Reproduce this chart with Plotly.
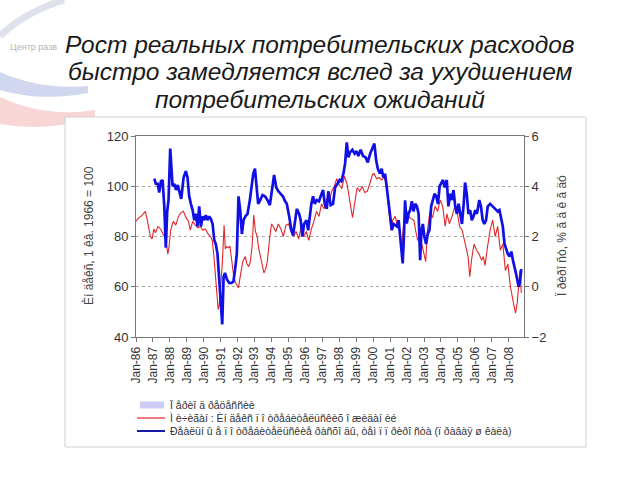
import plotly.graph_objects as go

# ---------------- data ----------------
title_lines = ["Рост реальных потребительских расходов",
               "быстро замедляется вслед за ухудшением",
               "потребительских ожиданий"]

tick_years = list(range(1986, 2009))
tick_labels = ["Jan-%02d" % (y % 100) for y in tick_years]

recession_start = [1990.50, 2001.17]
recession_end = [1991.25, 2001.87]

# Michigan: consumer expectations index (left axis)
red_x = [1986.00, 1986.15, 1986.30, 1986.45, 1986.55, 1986.65, 1986.75, 1986.85, 1986.95,
         1987.05, 1987.15, 1987.30, 1987.45, 1987.60, 1987.75, 1987.88, 1987.95, 1988.05,
         1988.20, 1988.35, 1988.50, 1988.65, 1988.80, 1988.95, 1989.10, 1989.20, 1989.35,
         1989.50, 1989.65, 1989.80, 1989.95, 1990.10, 1990.25, 1990.40, 1990.50, 1990.60,
         1990.70, 1990.78, 1990.85, 1990.92, 1991.00, 1991.10, 1991.20, 1991.27, 1991.35,
         1991.45, 1991.55, 1991.65, 1991.75, 1991.85, 1991.95, 1992.05, 1992.15, 1992.30,
         1992.45, 1992.55, 1992.65, 1992.75, 1992.85, 1992.95, 1993.05, 1993.15, 1993.25,
         1993.40, 1993.55, 1993.65, 1993.75, 1993.90, 1994.00, 1994.10, 1994.25, 1994.40,
         1994.55, 1994.70, 1994.85, 1995.00, 1995.15, 1995.30, 1995.45, 1995.60, 1995.75,
         1995.90, 1996.05, 1996.20, 1996.35, 1996.50, 1996.65, 1996.80, 1996.95, 1997.10,
         1997.25, 1997.40, 1997.55, 1997.70, 1997.85, 1998.00, 1998.15, 1998.30, 1998.45,
         1998.55, 1998.65, 1998.78, 1998.90, 1999.05, 1999.20, 1999.35, 1999.50, 1999.65,
         1999.80, 1999.95, 2000.05, 2000.20, 2000.35, 2000.50, 2000.65, 2000.80, 2000.90,
         2001.05, 2001.15, 2001.30, 2001.45, 2001.55, 2001.68, 2001.80, 2001.95, 2002.10,
         2002.25, 2002.40, 2002.50, 2002.62, 2002.75, 2002.90, 2003.00, 2003.10, 2003.20,
         2003.35, 2003.50, 2003.65, 2003.80, 2003.95, 2004.10, 2004.25, 2004.35, 2004.50,
         2004.65, 2004.80, 2004.95, 2005.10, 2005.25, 2005.45, 2005.60, 2005.70, 2005.80,
         2005.95, 2006.10, 2006.25, 2006.40, 2006.50, 2006.60, 2006.75, 2006.90, 2007.05,
         2007.20, 2007.35, 2007.50, 2007.65, 2007.80, 2007.95, 2008.10, 2008.25, 2008.40,
         2008.50, 2008.60, 2008.66, 2008.74]
red_y = [86, 87.5, 88, 89.5, 90, 87, 84, 80, 79,
         83, 81.5, 84, 83, 81, 79, 73, 76, 82.5,
         86, 84.5, 88, 89.5, 90, 87.5, 86, 82.5, 86,
         84.5, 83.5, 84, 82.5, 83, 81, 80, 78.5, 72,
         64, 56, 51, 53, 60, 70, 84.5, 75, 76,
         75.5, 76, 70, 65, 62, 61, 59.5, 64, 70,
         72, 69, 68, 70, 76, 88.5, 82, 80, 75,
         70, 65.5, 67, 70, 80, 85, 84, 82, 85,
         83, 80, 84.5, 85, 82, 80, 82, 79, 84,
         80, 82, 78.5, 83, 86, 90, 88, 93, 91,
         95, 94, 98, 100, 103, 100.5, 99, 104, 101,
         97, 93, 87.5, 93, 99.5, 98, 100, 97.5, 98,
         101, 104.5, 105, 103, 103.5, 102.5, 103.5, 100.5, 92,
         82.5, 86.5, 88, 84, 83, 76, 85, 90.5, 88,
         87, 86.5, 82.5, 78.5, 80.5, 76, 73, 70, 82.5,
         90, 87.5, 92, 90, 94.5, 92, 84, 89, 85,
         88, 91.5, 90, 84, 82.5, 76, 72, 64, 70.5,
         77, 74.5, 73, 70.5, 72, 68.5, 76, 82.5, 86.5,
         80, 84, 74.5, 77, 66.5, 69, 60, 54.5, 49.5,
         53.5, 60, 66.5, 57.5]

# Real consumer spending, growth rate (right axis)
blue_x = [1987.08, 1987.17, 1987.28, 1987.37, 1987.47, 1987.57, 1987.67, 1987.76, 1987.84,
          1987.92, 1988.02, 1988.08, 1988.16, 1988.26, 1988.36, 1988.46, 1988.57, 1988.67,
          1988.81, 1988.94, 1989.04, 1989.14, 1989.24, 1989.34, 1989.44, 1989.54, 1989.63,
          1989.73, 1989.83, 1989.93, 1990.03, 1990.12, 1990.22, 1990.32, 1990.42, 1990.52,
          1990.62, 1990.71, 1990.81, 1990.91, 1991.01, 1991.09, 1991.17, 1991.25, 1991.36,
          1991.50, 1991.63, 1991.75, 1991.85, 1991.95, 1992.05, 1992.15, 1992.25, 1992.35,
          1992.45, 1992.58, 1992.72, 1992.82, 1992.92, 1993.02, 1993.12, 1993.21, 1993.33,
          1993.47, 1993.61, 1993.76, 1993.90, 1994.03, 1994.15, 1994.28, 1994.40, 1994.54,
          1994.67, 1994.80, 1994.90, 1995.04, 1995.17, 1995.27, 1995.37, 1995.49, 1995.63,
          1995.72, 1995.82, 1995.92, 1996.06, 1996.16, 1996.26, 1996.35, 1996.45, 1996.55,
          1996.67, 1996.80, 1996.90, 1997.04, 1997.14, 1997.26, 1997.35, 1997.49, 1997.63,
          1997.75, 1997.89, 1998.02, 1998.12, 1998.24, 1998.34, 1998.44, 1998.54, 1998.63,
          1998.77, 1998.90, 1999.02, 1999.12, 1999.26, 1999.40, 1999.55, 1999.68, 1999.82,
          1999.95, 2000.07, 2000.17, 2000.27, 2000.40, 2000.50, 2000.60, 2000.70, 2000.80,
          2000.90, 2001.00, 2001.10, 2001.20, 2001.30, 2001.40, 2001.50, 2001.60, 2001.68,
          2001.74, 2001.82, 2001.88, 2001.98, 2002.08, 2002.18, 2002.28, 2002.38, 2002.48,
          2002.58, 2002.68, 2002.77, 2002.85, 2002.93, 2003.02, 2003.12, 2003.22, 2003.32,
          2003.42, 2003.52, 2003.62, 2003.72, 2003.82, 2003.92, 2004.02, 2004.12, 2004.22,
          2004.34, 2004.44, 2004.54, 2004.64, 2004.74, 2004.84, 2004.94, 2005.04, 2005.14,
          2005.24, 2005.34, 2005.42, 2005.52, 2005.62, 2005.72, 2005.82, 2005.92, 2006.02,
          2006.12, 2006.26, 2006.36, 2006.46, 2006.56, 2006.66, 2006.76, 2006.90, 2007.05,
          2007.20, 2007.35, 2007.45, 2007.55, 2007.65, 2007.75, 2007.85, 2007.95, 2008.05,
          2008.15, 2008.25, 2008.35, 2008.42, 2008.50, 2008.58, 2008.66, 2008.74]
blue_y = [4.3, 4.1, 4.1, 3.75, 4.2, 4.25, 3.2, 1.55, 3.0,
          3.45, 5.5, 4.6, 4.0, 4.1, 3.85, 4.05, 3.7, 3.5,
          4.35, 4.6, 4.35, 3.6, 3.3, 3.05, 2.65, 2.9, 2.4,
          3.2, 2.4, 2.8, 2.65, 2.85, 2.65, 2.8, 2.7, 2.5,
          1.85, 1.7, 1.3, 0.4, -0.5, -1.5, 0.4, 0.55, 0.3,
          0.15, 0.15, 0.2, 0.7, 1.3, 3.6, 3.05, 2.1, 2.65,
          2.8, 2.9, 3.45, 4.1, 4.5, 4.7, 3.85, 3.3, 3.45,
          3.65, 3.6, 3.45, 3.25, 3.95, 4.45, 3.95, 3.8, 3.7,
          3.6, 3.4, 3.3, 2.8, 2.25, 2.05, 2.65, 3.1, 2.9,
          2.65, 2.0, 2.5, 2.65, 2.25, 2.8, 3.3, 3.6, 3.3,
          3.45, 3.4, 3.6, 3.85, 3.3, 3.1, 3.8, 3.25, 3.3,
          3.95, 4.1, 4.25, 4.2, 4.5, 4.9, 5.75, 5.15, 5.35,
          5.45, 5.3, 5.4, 5.2, 5.45, 5.2, 5.15, 4.95, 5.3,
          5.55, 5.7, 5.05, 4.7, 4.5, 4.7, 4.35, 4.5, 3.95,
          3.45, 2.8, 2.25, 2.5, 2.45, 2.4, 2.65, 1.85, 1.3,
          0.93, 2.12, 3.44, 2.52, 2.9, 3.05, 3.4, 3.0, 3.3,
          3.2, 2.9, 1.06, 2.25, 2.5, 2.0, 1.7, 2.1, 2.25,
          3.2, 3.45, 3.7, 3.6, 3.3, 4.0, 4.1, 4.25, 3.95,
          4.25, 3.2, 3.7, 3.45, 3.85, 3.2, 2.9, 3.3, 2.9,
          2.5, 3.3, 4.15, 3.7, 2.9, 3.05, 2.65, 2.8, 3.05,
          2.9, 3.45, 3.2, 2.65, 2.5, 2.65, 3.2, 3.3, 3.2,
          3.1, 3.0, 3.05, 2.65, 2.4, 1.7, 1.45, 1.3, 1.2,
          1.4, 1.05, 0.8, 0.55, 0.3, 0.0, 0.15, 0.7]

legend_labels = ["Ï åðèî ä ðåöåññèè",
                 "Ì è÷èãàí : Èí äåêñ ï î òðåáèòåëüñêèõ î æèäàí èé",
                 "Ðåàëüí û å ï î òðåáèòåëüñêèå ðàñõî äû, òåì ï ï ðèðî ñòà (ï ðàâàÿ ø êàëà)"]
left_title = "Èí äåêñ, 1 êâ. 1966 = 100"
right_title = "Ï ðèðî ñò, % ã ä ê ã äó"
logo_text = "Центр разв"

# ---------------- styles ----------------
RED = "#e3262b"
BLUE = "#1010e6"
BAND = "#ccccf4"
FONT = "Liberation Sans, Arial, sans-serif"

W, H = 640, 480
L, R, T, B = 136, 524, 136, 337


def px(xp):
    return (xp - L) / (R - L)


def py(yp):
    return (B - yp) / (B - T)


def path(points_cmd):
    out = []
    for tok in points_cmd:
        if isinstance(tok, str):
            out.append(tok)
        else:
            out.append("%.4f,%.4f" % (px(tok[0]), py(tok[1])))
    return " ".join(out)


fig = go.Figure()
fig.add_trace(go.Scatter(x=red_x, y=red_y, mode="lines", line=dict(color=RED, width=1.1),
                         name=legend_labels[1], showlegend=False))
fig.add_trace(go.Scatter(x=blue_x, y=blue_y, mode="lines", yaxis="y2",
                         line=dict(color=BLUE, width=2.7), name=legend_labels[2],
                         showlegend=False))

shapes = []
# faint logo swooshes (top-left)
shapes.append(dict(type="path", xref="paper", yref="paper",
                   path=path(["M", (0, 36), "Q", (25, 12), (64, 0)]),
                   line=dict(color="#dfe2ea", width=7), layer="below"))
shapes.append(dict(type="path", xref="paper", yref="paper",
                   path=path(["M", (0, 72), "Q", (40, 90), (88, 86), "L", (88, 93),
                              "Q", (40, 102), (0, 90), "Z"]),
                   fillcolor="rgba(120,140,205,0.35)", line=dict(width=0), layer="below"))
shapes.append(dict(type="path", xref="paper", yref="paper",
                   path=path(["M", (0, 97), "Q", (45, 118), (95, 110), "L", (95, 118),
                              "Q", (45, 132), (0, 124), "Z"]),
                   fillcolor="rgba(235,120,120,0.30)", line=dict(width=0), layer="below"))

for s, e in zip(recession_start, recession_end):
    shapes.append(dict(type="rect", xref="x", yref="paper", x0=s, x1=e, y0=0, y1=1,
                       fillcolor=BAND, line=dict(width=0), layer="below"))
# outer panel border
shapes.append(dict(type="rect", xref="paper", yref="paper", x0=px(65), x1=px(586),
                   y0=py(447), y1=py(117), line=dict(color="#d0d0d0", width=1),
                   fillcolor="white", layer="below"))
# legend symbols
leg_rows = [405, 418, 431]
shapes.append(dict(type="rect", xref="paper", yref="paper", x0=px(140), x1=px(164),
                   y0=py(leg_rows[0] + 3.5), y1=py(leg_rows[0] - 3.5), fillcolor=BAND,
                   line=dict(width=0)))
shapes.append(dict(type="line", xref="paper", yref="paper", x0=px(137), x1=px(165),
                   y0=py(leg_rows[1]), y1=py(leg_rows[1]), line=dict(color=RED, width=1.2)))
shapes.append(dict(type="line", xref="paper", yref="paper", x0=px(137), x1=px(165),
                   y0=py(leg_rows[2]), y1=py(leg_rows[2]), line=dict(color="#1a1aa8", width=2)))

annotations = []
annotations.append(dict(text=logo_text, xref="paper", yref="paper", x=px(8), y=py(47),
                        xanchor="left", yanchor="middle", showarrow=False,
                        font=dict(family=FONT, size=9, color="#b4b4b4")))
for i, line in enumerate(title_lines):
    annotations.append(dict(text="<i>%s</i>" % line, xref="paper", yref="paper",
                            x=px(320), y=py(44 + 28 * i), xanchor="center", yanchor="middle",
                            showarrow=False, font=dict(family=FONT, size=24.5, color="#1a1a1a")))
for yy, lab in zip(leg_rows, legend_labels):
    annotations.append(dict(text=lab, xref="paper", yref="paper", x=px(168), y=py(yy),
                            xanchor="left", yanchor="middle", showarrow=False,
                            font=dict(family=FONT, size=10.5, color="#333")))
annotations.append(dict(text=left_title, xref="paper", yref="paper", x=px(88), y=py(236),
                        xanchor="center", yanchor="middle", textangle=-90, showarrow=False,
                        font=dict(family=FONT, size=12, color="#444")))
annotations.append(dict(text=right_title, xref="paper", yref="paper", x=px(562), y=py(236),
                        xanchor="center", yanchor="middle", textangle=-90, showarrow=False,
                        font=dict(family=FONT, size=12, color="#444")))

axis_common = dict(showline=True, linecolor="#777", linewidth=1, ticks="outside",
                   ticklen=4, tickcolor="#777",
                   tickfont=dict(family=FONT, size=13, color="#333"))

fig.update_layout(
    width=W, height=H,
    margin=dict(l=L, r=W - R, t=T, b=H - B),
    paper_bgcolor="white", plot_bgcolor="white",
    showlegend=False,
    shapes=shapes, annotations=annotations,
    xaxis=dict(range=[1986, 2008.9], tickmode="array", tickvals=tick_years,
               ticktext=tick_labels, tickangle=-90, showgrid=False, mirror=True,
               zeroline=False, showline=True, linecolor="#777", ticks="outside",
               ticklen=4, tickcolor="#777",
               tickfont=dict(family=FONT, size=12, color="#333")),
    yaxis=dict(range=[40, 120], dtick=20, showgrid=True, gridcolor="#aaa",
               griddash="dot", zeroline=False, **axis_common),
    yaxis2=dict(range=[-2, 6], dtick=2, overlaying="y", side="right", showgrid=False,
                zeroline=False, **axis_common),
)

fig.write_html("out.html")
